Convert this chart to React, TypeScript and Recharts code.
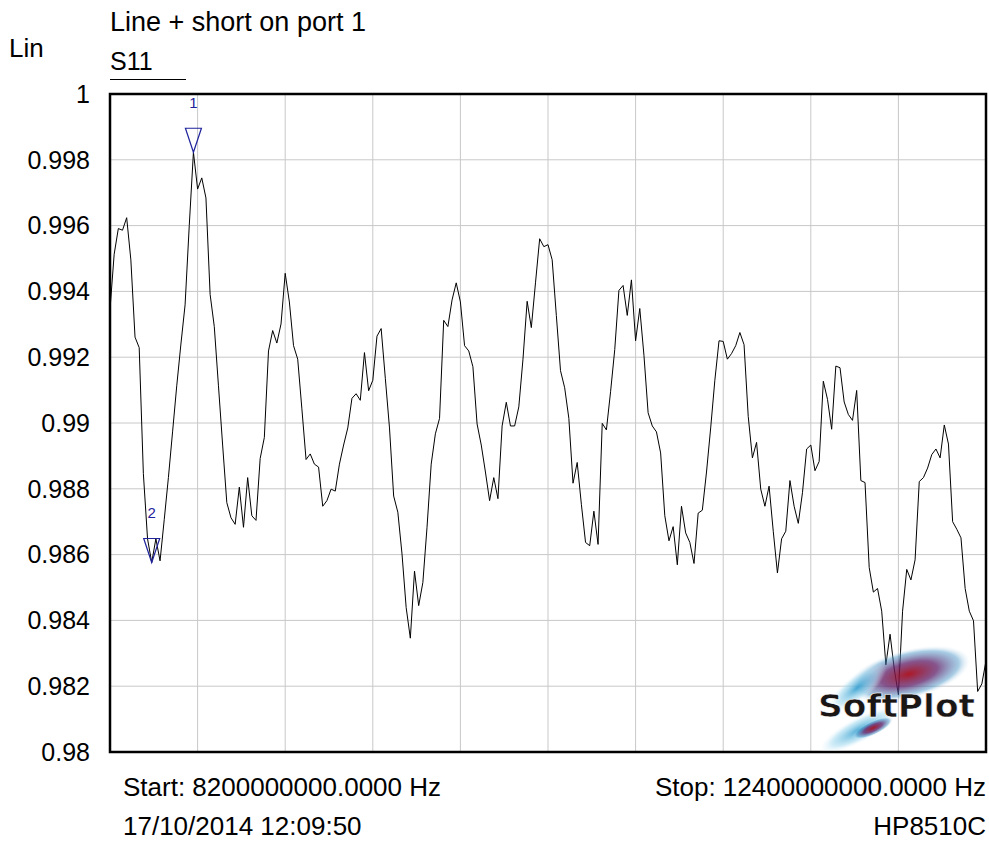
import * as React from 'react';
import { LineChart, Line, XAxis, YAxis, CartesianGrid, ReferenceArea, ReferenceDot } from 'recharts';

const START_GHZ = 8.2;
const STOP_GHZ = 12.4;

// S11 linear magnitude, 211 sweep points
const s11 = [
  0.99345, 0.99513, 0.99591, 0.99586, 0.99624, 0.99496, 0.99261, 0.99229, 0.98846, 0.98648,
  0.98576, 0.98648, 0.98581, 0.98706, 0.98834, 0.98973, 0.99113, 0.9924, 0.99359, 0.996,
  0.99823, 0.99711, 0.99745, 0.99684, 0.99391, 0.99293, 0.99113, 0.98933, 0.98758, 0.98712,
  0.98692, 0.98805, 0.98683, 0.98834, 0.98718, 0.98704, 0.98892, 0.98956, 0.99219, 0.99281,
  0.99243, 0.99301, 0.99455, 0.99368, 0.99235, 0.99194, 0.99043, 0.98889, 0.98906, 0.98875,
  0.98866, 0.98747, 0.98764, 0.98799, 0.98793, 0.98875, 0.98933, 0.98985, 0.99075, 0.99089,
  0.99069, 0.99214, 0.99098, 0.9913, 0.99264, 0.99287, 0.99136, 0.98985, 0.98778, 0.98729,
  0.98602, 0.98439, 0.98346, 0.9855, 0.98445, 0.98515, 0.98683, 0.98875, 0.98967, 0.99014,
  0.99312, 0.99293, 0.99374, 0.99426, 0.99368, 0.99235, 0.99219, 0.99171, 0.98997, 0.98933,
  0.98851, 0.98764, 0.98834, 0.9877, 0.98991, 0.99063, 0.98991, 0.98991, 0.99049, 0.99194,
  0.9937, 0.9929, 0.99426, 0.9956, 0.99536, 0.99542, 0.99496, 0.99327, 0.99159, 0.99107,
  0.99014, 0.98817, 0.9888, 0.98753, 0.98637, 0.98627, 0.98732, 0.98631, 0.98999, 0.98979,
  0.99095, 0.99223, 0.99403, 0.99418, 0.99327, 0.99435, 0.9925, 0.99348, 0.99206, 0.99031,
  0.98991, 0.98973, 0.98909, 0.98718, 0.98642, 0.98685, 0.98569, 0.98747, 0.98666, 0.98637,
  0.98573, 0.98726, 0.98735, 0.98851, 0.98985, 0.9913, 0.9925, 0.99248, 0.99194, 0.99211,
  0.99235, 0.99275, 0.99238, 0.9902, 0.98894, 0.98941, 0.98799, 0.98747, 0.98808, 0.98671,
  0.98544, 0.98648, 0.98671, 0.98825, 0.98747, 0.98695, 0.98788, 0.98921, 0.98933, 0.98855,
  0.98883, 0.99127, 0.99072, 0.98981, 0.99173, 0.99168, 0.99064, 0.99026, 0.99008, 0.99099,
  0.98825, 0.98819, 0.98561, 0.98486, 0.98497, 0.98428, 0.98265, 0.98358, 0.98253, 0.98174,
  0.98428, 0.98555, 0.98523, 0.98584, 0.98822, 0.98834, 0.98863, 0.98904, 0.98921, 0.98894,
  0.98994, 0.98936, 0.987, 0.98677, 0.98651, 0.98497, 0.98428, 0.98399, 0.98184, 0.98207,
  0.98277,
];

const yTicks = [0.98, 0.982, 0.984, 0.986, 0.988, 0.99, 0.992, 0.994, 0.996, 0.998, 1];
const xTicks = [8.2, 8.62, 9.04, 9.46, 9.88, 10.3, 10.72, 11.14, 11.56, 11.98, 12.4];
const markers = [
  { label: '1', index: 20 },
  { label: '2', index: 10 },
];

const data = s11.map((v, i) => ({
  f: START_GHZ + (i * (STOP_GHZ - START_GHZ)) / (s11.length - 1),
  v,
}));

const FONT = '"Liberation Sans", Arial, sans-serif';
const MARKER_BLUE = '#1f239c';

const txt = (size: number): React.CSSProperties => ({
  position: 'absolute',
  fontFamily: FONT,
  fontSize: size,
  lineHeight: '18px',
  whiteSpace: 'nowrap',
  color: '#000',
});

const MarkerShape = (props: any) => {
  const { cx, cy, label } = props;
  return (
    <g>
      <polygon
        points={`${cx - 8},${cy - 24} ${cx + 8},${cy - 24} ${cx},${cy}`}
        fill="none"
        stroke={MARKER_BLUE}
        strokeWidth={1.2}
      />
      <text x={cx} y={cy - 44} fill={MARKER_BLUE} fontSize={15} fontFamily={FONT} textAnchor="middle">
        {label}
      </text>
    </g>
  );
};

const SoftPlotLogo = () => (
  <svg width={175} height={115} style={{ position: 'absolute', left: 811, top: 636 }}>
    <defs>
      <radialGradient id="red" cx="50%" cy="50%" r="50%">
        <stop offset="0%" stopColor="#a80d1c" stopOpacity={0.95} />
        <stop offset="45%" stopColor="#5e1c66" stopOpacity={0.75} />
        <stop offset="80%" stopColor="#3d8fc4" stopOpacity={0.45} />
        <stop offset="100%" stopColor="#ffffff" stopOpacity={0} />
      </radialGradient>
      <radialGradient id="cyan" cx="50%" cy="50%" r="50%">
        <stop offset="0%" stopColor="#2d9ccf" stopOpacity={0.85} />
        <stop offset="65%" stopColor="#a6dbf0" stopOpacity={0.55} />
        <stop offset="100%" stopColor="#ffffff" stopOpacity={0} />
      </radialGradient>
    </defs>
    <ellipse cx={98} cy={38} rx={64} ry={25} fill="url(#red)" transform="rotate(-14 98 38)" />
    <ellipse cx={46} cy={52} rx={36} ry={13} fill="url(#cyan)" transform="rotate(-38 46 52)" />
    <ellipse cx={48} cy={94} rx={46} ry={13} fill="url(#cyan)" transform="rotate(-28 48 94)" />
    <ellipse cx={62} cy={92} rx={22} ry={7} fill="url(#red)" transform="rotate(-25 62 92)" />
    <text
      x={7}
      y={81}
      fontFamily='"DejaVu Sans", sans-serif'
      fontWeight={900}
      fontSize={32}
      fill="#1a1616"
      stroke="#ffffff"
      strokeWidth={0.6}
      textLength={157}
      lengthAdjust="spacingAndGlyphs"
    >
      SoftPlot
    </text>
  </svg>
);

export default function App() {
  return (
    <div
      style={{
        position: 'fixed',
        left: 0,
        top: 0,
        width: 989,
        height: 841,
        overflow: 'hidden',
        background: '#fff',
      }}
    >
      <div style={{ ...txt(27), left: 110, top: 13 }}>Line + short on port 1</div>
      <div style={{ ...txt(26), left: 9, top: 39 }}>Lin</div>
      <div style={{ ...txt(25), left: 110, top: 52 }}>S11</div>
      <div style={{ position: 'absolute', left: 110, top: 79, width: 76, height: 1, background: '#000' }} />

      <LineChart
        width={989}
        height={841}
        data={data}
        margin={{ top: 94, right: 3, bottom: 89, left: 0 }}
        style={{ position: 'absolute', left: 0, top: 0 }}
      >
        <CartesianGrid stroke="#c8c8c8" strokeWidth={1} />
        <XAxis dataKey="f" type="number" domain={[START_GHZ, STOP_GHZ]} ticks={xTicks} hide allowDataOverflow />
        <YAxis
          type="number"
          domain={[0.98, 1]}
          ticks={yTicks}
          width={110}
          axisLine={false}
          tickLine={false}
          tickSize={0}
          tickMargin={20}
          interval={0}
          allowDataOverflow
          tick={{ fill: '#000', fontSize: 25, fontFamily: FONT }}
          tickFormatter={(v: number) => String(parseFloat(v.toFixed(3)))}
        />
        <ReferenceArea
          x1={START_GHZ}
          x2={STOP_GHZ}
          y1={0.98}
          y2={1}
          fill="none"
          stroke="#000"
          strokeWidth={2.5}
          fillOpacity={0}
        />
        <Line
          type="linear"
          dataKey="v"
          stroke="#000"
          strokeWidth={1}
          dot={false}
          isAnimationActive={false}
        />
        {markers.map((m) => (
          <ReferenceDot
            key={m.label}
            x={data[m.index].f}
            y={data[m.index].v}
            r={0}
            shape={(p: any) => <MarkerShape {...p} label={m.label} />}
          />
        ))}
      </LineChart>

      <SoftPlotLogo />

      <div style={{ ...txt(26), left: 123, top: 778 }}>Start: 8200000000.0000 Hz</div>
      <div style={{ ...txt(26), left: 123, top: 817 }}>17/10/2014 12:09:50</div>
      <div style={{ ...txt(26), right: 3, top: 778 }}>Stop: 12400000000.0000 Hz</div>
      <div style={{ ...txt(26), right: 3, top: 817 }}>HP8510C</div>
    </div>
  );
}
